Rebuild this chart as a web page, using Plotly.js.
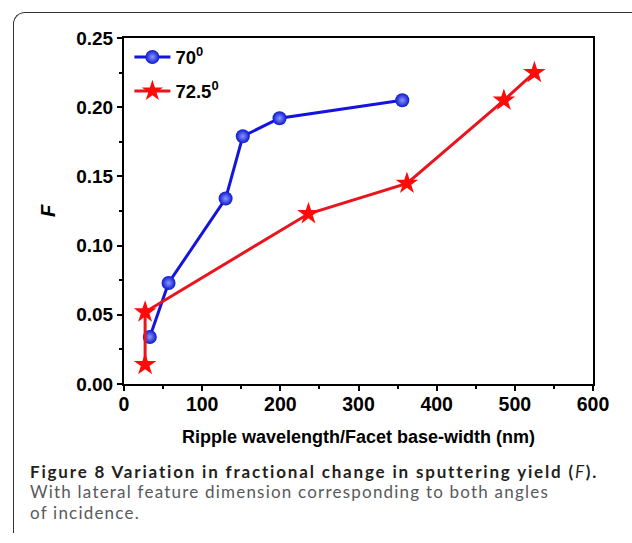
<!DOCTYPE html>
<html>
<head>
<meta charset="utf-8">
<script src="https://cdn.plot.ly/plotly-3.0.1.min.js"></script>
<style>
html,body{margin:0;padding:0;background:#fff;}
#wrap{position:relative;width:632px;height:543px;overflow:hidden;}
#frame{position:absolute;left:13px;top:12px;width:640px;height:521px;border-top:1.5px solid #333;border-left:1.5px solid #333;border-top-left-radius:12px;box-sizing:border-box;}
#chart{position:absolute;left:0;top:0;width:632px;height:543px;}
#caption{position:absolute;left:30px;top:462px;width:600px;font-family:Lato,'Open Sans',sans-serif;line-height:20.4px;white-space:nowrap;}
#caption div span{display:inline;}
#caption .l1{font-weight:700;font-size:17px;color:#231f20;}
#caption .l2{font-weight:400;font-size:17px;color:#58595b;}
</style>
</head>
<body>
<div id="wrap">
<div id="frame"></div>
<div id="chart"></div>
<div id="caption"></div>
</div>
<script>
// Series: 70 degrees
const x70 = [33, 57, 130, 152, 199, 356];
const f70 = [0.034, 0.073, 0.134, 0.179, 0.192, 0.205];
// Series: 72.5 degrees
const x725 = [27, 27, 236, 362, 486, 525];
const f725 = [0.014, 0.052, 0.123, 0.145, 0.205, 0.225];

const seriesNames = ['70<sup>0</sup>', '72.5<sup>0</sup>'];
const xTitle = 'Ripple wavelength/Facet base-width (nm)';
const yTitle = 'F';
const captionTitle = ['Figure 8 Variation in fractional change in sputtering yield (', 'F', ').'];
const captionLines = ['With lateral feature dimension corresponding to both angles', 'of incidence.'];

// caption (real text), widths fitted to the reference line lengths
const cap = document.getElementById('caption');
function fit(el, target) {
  const s = document.createElement('span');
  while (el.firstChild) s.appendChild(el.firstChild);
  el.appendChild(s);
  const w = s.getBoundingClientRect().width;
  const n = s.textContent.length;
  el.style.letterSpacing = ((target - w) / n).toFixed(3) + 'px';
  return (target - w) / n;
}
const l1 = document.createElement('div'); l1.className = 'l1';
l1.appendChild(document.createTextNode(captionTitle[0]));
const it = document.createElement('i'); it.style.fontWeight = '400'; it.textContent = captionTitle[1];
l1.appendChild(it);
l1.appendChild(document.createTextNode(captionTitle[2]));
cap.appendChild(l1);
const l2 = document.createElement('div'); l2.className = 'l2'; l2.textContent = captionLines[0]; cap.appendChild(l2);
const l3 = document.createElement('div'); l3.className = 'l2'; l3.textContent = captionLines[1]; cap.appendChild(l3);
fit(l1, 568);
const ls = fit(l2, 519);
l3.style.letterSpacing = ls.toFixed(3) + 'px';

const traces = [
  {
    x: x70, y: f70, name: seriesNames[0], legendgroup: 'a', mode: 'lines+markers', type: 'scatter',
    line: {color: '#1414dc', width: 3},
    marker: {symbol: 'circle', size: 14, color: '#0a18d0',
      gradient: {type: 'radial', color: '#8c96ff'}, line: {width: 0}}
  },
  {
    x: x725, y: f725, name: seriesNames[1], legendgroup: 'b', mode: 'lines+markers', type: 'scatter',
    line: {color: '#e8141e', width: 3},
    marker: {symbol: 'star', size: 17, color: '#ff0a0a', line: {width: 0}}
  }
];

const fam = 'Liberation Sans, Arial, sans-serif';

const layout = {
  width: 632, height: 543,
  margin: {l: 124, r: 39, t: 37.5, b: 159},
  paper_bgcolor: 'rgba(0,0,0,0)',
  plot_bgcolor: '#fff',
  showlegend: true,
  legend: {
    x: 0.0115, y: 0.9987, xanchor: 'left', yanchor: 'top',
    bgcolor: 'rgba(0,0,0,0)',
    font: {family: fam, size: 18.5, color: '#000', weight: 'bold'},
    tracegroupgap: 7, itemwidth: 36
  },
  xaxis: {
    range: [0, 600], dtick: 100, tick0: 0,
    showline: true, linecolor: '#000', linewidth: 2, mirror: true,
    ticks: 'outside', ticklen: 5, tickwidth: 2, tickcolor: '#000',
    minor: {ticks: 'outside', dtick: 50, ticklen: 3, tickwidth: 2, tickcolor: '#000'},
    showgrid: false, zeroline: false, ticklabelstandoff: -3,
    tickfont: {family: fam, size: 19.5, color: '#000', weight: 'bold'},
    title: {text: '<b>' + xTitle + '</b>', font: {family: fam, size: 18, color: '#000'}, standoff: 16}
  },
  yaxis: {
    range: [0, 0.25], dtick: 0.05, tick0: 0, tickformat: '.2f',
    showline: true, linecolor: '#000', linewidth: 2, mirror: true,
    ticks: 'outside', ticklen: 5, tickwidth: 2, tickcolor: '#000',
    minor: {ticks: 'outside', dtick: 0.025, ticklen: 3, tickwidth: 2, tickcolor: '#000'},
    showgrid: false, zeroline: false,
    tickfont: {family: fam, size: 19, color: '#000', weight: 'bold'},
    title: {text: '<b><i>' + yTitle + '</i></b>', font: {family: fam, size: 20, color: '#000'}, standoff: 15}
  }
};

Plotly.newPlot('chart', traces, layout, {staticPlot: true, displayModeBar: false});
</script>
</body>
</html>
